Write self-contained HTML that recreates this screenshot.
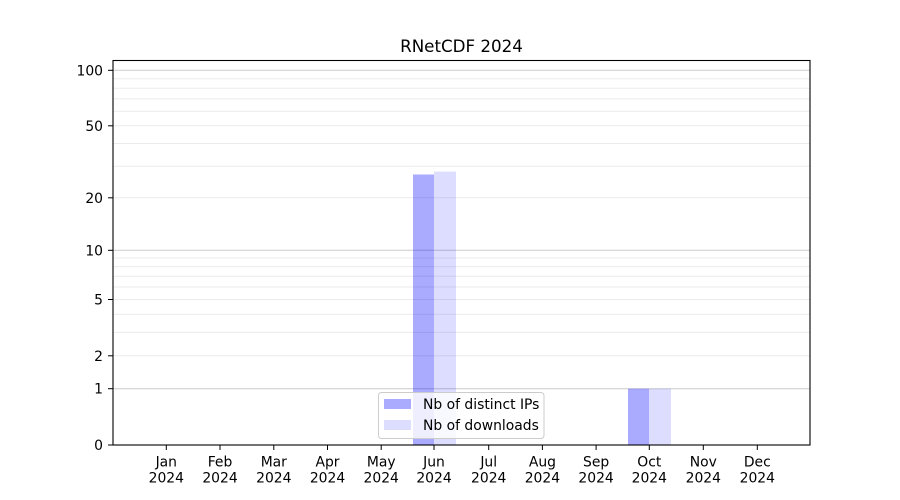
<!DOCTYPE html>
<html>
<head>
<meta charset="utf-8">
<style>
html,body{margin:0;padding:0;background:#fff;}
svg{display:block;}
text{font-family:"DejaVu Sans","Liberation Sans",sans-serif;fill:#000;}
</style>
</head>
<body>
<svg width="900" height="500" viewBox="0 0 900 500" xmlns="http://www.w3.org/2000/svg">
<rect x="0" y="0" width="900" height="500" fill="#fff"/>
<!-- minor gridlines -->
<g stroke="#ebebeb" stroke-width="1">
<line x1="113" x2="810" y1="355.8" y2="355.8"/>
<line x1="113" x2="810" y1="332.4" y2="332.4"/>
<line x1="113" x2="810" y1="314.3" y2="314.3"/>
<line x1="113" x2="810" y1="299.5" y2="299.5"/>
<line x1="113" x2="810" y1="287.0" y2="287.0"/>
<line x1="113" x2="810" y1="276.2" y2="276.2"/>
<line x1="113" x2="810" y1="266.6" y2="266.6"/>
<line x1="113" x2="810" y1="258.0" y2="258.0"/>
<line x1="113" x2="810" y1="197.8" y2="197.8"/>
<line x1="113" x2="810" y1="166.2" y2="166.2"/>
<line x1="113" x2="810" y1="143.5" y2="143.5"/>
<line x1="113" x2="810" y1="125.8" y2="125.8"/>
<line x1="113" x2="810" y1="111.2" y2="111.2"/>
<line x1="113" x2="810" y1="98.9" y2="98.9"/>
<line x1="113" x2="810" y1="88.2" y2="88.2"/>
<line x1="113" x2="810" y1="78.8" y2="78.8"/>
</g>
<!-- major gridlines -->
<g stroke="#cccccc" stroke-width="1">
<line x1="113" x2="810" y1="388.7" y2="388.7"/>
<line x1="113" x2="810" y1="250.3" y2="250.3"/>
<line x1="113" x2="810" y1="70.3" y2="70.3"/>
</g>
<!-- bars -->
<rect x="413" y="174.5" width="21" height="270.5" fill="#0000ff" fill-opacity="0.333"/>
<rect x="434" y="171.6" width="22" height="273.4" fill="#0000ff" fill-opacity="0.135"/>
<rect x="628" y="388.7" width="21" height="56.3" fill="#0000ff" fill-opacity="0.333"/>
<rect x="649" y="388.7" width="22" height="56.3" fill="#0000ff" fill-opacity="0.135"/>
<!-- legend -->
<rect x="378.5" y="392.5" width="165.5" height="46" rx="3" ry="3" fill="#ffffff" fill-opacity="0.8" stroke="#cccccc" stroke-width="1"/>
<rect x="384" y="399" width="27" height="10" fill="#aaaaff"/>
<rect x="384" y="420" width="27" height="10" fill="#ddddff"/>
<text x="423" y="409" font-size="13.9">Nb of distinct IPs</text>
<text x="423" y="430" font-size="13.9">Nb of downloads</text>
<!-- axes frame -->
<rect x="113" y="60.5" width="697" height="384.5" fill="none" stroke="#000" stroke-width="1.1"/>
<!-- y ticks -->
<g stroke="#000" stroke-width="1">
<line x1="108" x2="113" y1="445" y2="445"/>
<line x1="108" x2="113" y1="388.7" y2="388.7"/>
<line x1="108" x2="113" y1="355.8" y2="355.8"/>
<line x1="108" x2="113" y1="299.5" y2="299.5"/>
<line x1="108" x2="113" y1="250.3" y2="250.3"/>
<line x1="108" x2="113" y1="197.8" y2="197.8"/>
<line x1="108" x2="113" y1="125.8" y2="125.8"/>
<line x1="108" x2="113" y1="70.3" y2="70.3"/>
</g>
<g font-size="13.9" text-anchor="end">
<text x="103" y="450">0</text>
<text x="103" y="393.7">1</text>
<text x="103" y="360.8">2</text>
<text x="103" y="304.5">5</text>
<text x="103" y="255.3">10</text>
<text x="103" y="202.8">20</text>
<text x="103" y="130.8">50</text>
<text x="103" y="75.3">100</text>
</g>
<!-- x ticks -->
<g stroke="#000" stroke-width="1">
<line x1="166.3" x2="166.3" y1="445" y2="450"/>
<line x1="220.0" x2="220.0" y1="445" y2="450"/>
<line x1="273.8" x2="273.8" y1="445" y2="450"/>
<line x1="327.5" x2="327.5" y1="445" y2="450"/>
<line x1="381.2" x2="381.2" y1="445" y2="450"/>
<line x1="434.0" x2="434.0" y1="445" y2="450"/>
<line x1="488.7" x2="488.7" y1="445" y2="450"/>
<line x1="542.4" x2="542.4" y1="445" y2="450"/>
<line x1="596.1" x2="596.1" y1="445" y2="450"/>
<line x1="649.3" x2="649.3" y1="445" y2="450"/>
<line x1="703.3" x2="703.3" y1="445" y2="450"/>
<line x1="757.3" x2="757.3" y1="445" y2="450"/>
</g>
<g font-size="13.9" text-anchor="middle">
<text x="166.3" y="466.5">Jan</text><text x="166.3" y="482.5">2024</text>
<text x="220.0" y="466.5">Feb</text><text x="220.0" y="482.5">2024</text>
<text x="273.8" y="466.5">Mar</text><text x="273.8" y="482.5">2024</text>
<text x="327.5" y="466.5">Apr</text><text x="327.5" y="482.5">2024</text>
<text x="381.2" y="466.5">May</text><text x="381.2" y="482.5">2024</text>
<text x="434.0" y="466.5">Jun</text><text x="434.0" y="482.5">2024</text>
<text x="488.7" y="466.5">Jul</text><text x="488.7" y="482.5">2024</text>
<text x="542.4" y="466.5">Aug</text><text x="542.4" y="482.5">2024</text>
<text x="596.1" y="466.5">Sep</text><text x="596.1" y="482.5">2024</text>
<text x="649.3" y="466.5">Oct</text><text x="649.3" y="482.5">2024</text>
<text x="703.3" y="466.5">Nov</text><text x="703.3" y="482.5">2024</text>
<text x="757.3" y="466.5">Dec</text><text x="757.3" y="482.5">2024</text>
</g>
<!-- title -->
<text x="461.5" y="52" font-size="16.7" text-anchor="middle">RNetCDF 2024</text>
</svg>
</body>
</html>
